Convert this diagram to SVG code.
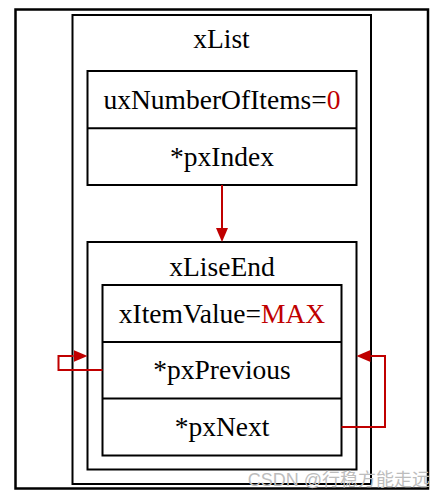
<svg xmlns="http://www.w3.org/2000/svg" width="447" height="498" viewBox="0 0 447 498">
<style>
  .box { fill: none; stroke: #000; stroke-width: 2; }
  .t { font-family: "Liberation Serif", "Times New Roman", serif; font-size: 27.5px; fill: #000; text-anchor: middle; }
  .red { fill: #c00000; }
  .conn { fill: none; stroke: #c00000; stroke-width: 2; }
  .wm { font-family: "Liberation Sans", "Noto Sans CJK SC", sans-serif; font-size: 18px; fill: #bdbdbd; text-anchor: end; }
</style>
<defs>
  <marker id="ah" markerUnits="userSpaceOnUse" markerWidth="14" markerHeight="12" refX="0" refY="6" orient="auto">
    <path d="M0,0 L14,6 L0,12 z" fill="#c00000"/>
  </marker>
</defs>
<rect x="0" y="0" width="447" height="498" fill="#fff"/>
<rect id="frame" x="15.5" y="9.5" width="412.5" height="479" fill="none" stroke="#000" stroke-width="2.5"/>
<g id="xList">
  <rect class="box" x="72.5" y="15" width="298.5" height="469"/>
  <text class="t" x="221.5" y="48">xList</text>
</g>
<g id="xListFields">
  <rect class="box" x="87.5" y="71" width="269" height="114"/>
  <line x1="87.5" y1="128.3" x2="356.5" y2="128.3" stroke="#000" stroke-width="2"/>
  <text class="t" x="222" y="109">uxNumberOfItems=<tspan class="red">0</tspan></text>
  <text class="t" x="222" y="166">*pxIndex</text>
</g>
<g id="xLiseEnd">
  <rect class="box" x="87.5" y="242" width="269" height="227.5"/>
  <text class="t" x="222" y="276">xLiseEnd</text>
</g>
<g id="xLiseEndFields">
  <rect class="box" x="102.5" y="285" width="239" height="170.5"/>
  <line x1="102.5" y1="342" x2="341.5" y2="342" stroke="#000" stroke-width="2"/>
  <line x1="102.5" y1="398.5" x2="341.5" y2="398.5" stroke="#000" stroke-width="2"/>
  <text class="t" x="222" y="322.5">xItemValue=<tspan class="red">MAX</tspan></text>
  <text class="t" x="222" y="379">*pxPrevious</text>
  <text class="t" x="222" y="435.5">*pxNext</text>
</g>
<g id="connectors">
  <path class="conn" d="M222,185 L222,228" marker-end="url(#ah)"/>
  <path class="conn" d="M102.5,370 L58.5,370 L58.5,356 L73.5,356" marker-end="url(#ah)"/>
  <path class="conn" d="M341.5,427 L385,427 L385,356 L370.5,356" marker-end="url(#ah)"/>
</g>
<text class="wm" x="430" y="486">CSDN @行稳方能走远</text>
</svg>
